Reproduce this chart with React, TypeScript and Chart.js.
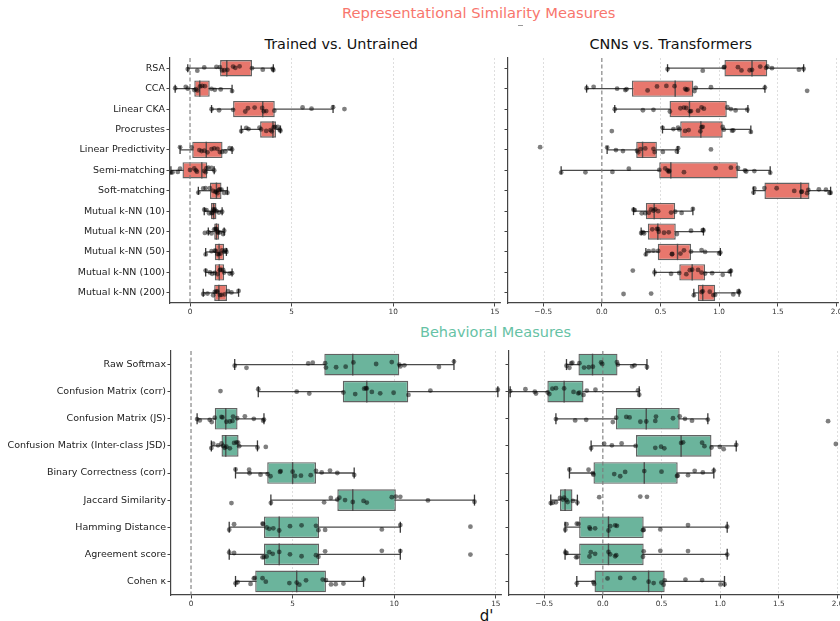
import React, { useEffect, useRef } from "react";
import { Chart, registerables } from "chart.js";

Chart.register(...registerables);

// ---------- categories & tick labels ----------
const REP_LABELS = [
  "RSA",
  "CCA",
  "Linear CKA",
  "Procrustes",
  "Linear Predictivity",
  "Semi-matching",
  "Soft-matching",
  "Mutual k-NN (10)",
  "Mutual k-NN (20)",
  "Mutual k-NN (50)",
  "Mutual k-NN (100)",
  "Mutual k-NN (200)",
];
const BEH_LABELS = [
  "Raw Softmax",
  "Confusion Matrix (corr)",
  "Confusion Matrix (JS)",
  "Confusion Matrix (Inter-class JSD)",
  "Binary Correctness (corr)",
  "Jaccard Similarity",
  "Hamming Distance",
  "Agreement score",
  "Cohen \u03ba",
];
const LEFT_X_TICKS = [0, 5, 10, 15];
const LEFT_X_TICK_LABELS = ["0", "5", "10", "15"];
const RIGHT_X_TICKS = [-0.5, 0, 0.5, 1, 1.5, 2];
const RIGHT_X_TICK_LABELS = ["\u22120.5", "0.0", "0.5", "1.0", "1.5", "2.0"];

// ---------- Trained vs. Untrained : representational ----------
const TU_REP_LO = [-0.11, -0.73, 1.06, 2.52, -0.49, -0.94, 0.41, 0.7, 0.9, 0.77, 0.77, 0.65];
const TU_REP_Q1 = [1.48, 0.21, 2.12, 3.45, 0.11, -0.37, 0.98, 1.03, 1.19, 1.22, 1.22, 1.19];
const TU_REP_MED = [1.81, 0.48, 3.58, 4.08, 0.8, 0.58, 1.3, 1.16, 1.3, 1.43, 1.44, 1.42];
const TU_REP_Q3 = [3.05, 0.97, 4.17, 4.23, 1.6, 0.85, 1.55, 1.3, 1.44, 1.68, 1.68, 1.82];
const TU_REP_HI = [4.1, 2.07, 7.04, 4.45, 2.07, 1.19, 1.84, 1.58, 1.68, 1.79, 2.07, 2.39];
const TU_REP_POINTS = [
  [-0.11, 0.36, 0.7, 1.3, 1.47, 1.58, 1.68, 1.84, 2.12, 2.23, 2.44, 3.05, 3.58, 4.07, 4.1],
  [-0.73, -0.21, -0.11, 0.21, 0.29, 0.37, 0.49, 0.6, 0.73, 1.06, 1.22, 1.51, 2.07],
  [1.06, 1.43, 2.12, 2.72, 2.85, 3.18, 3.55, 3.63, 3.75, 4.15, 5.54, 5.98, 7.04, 7.6],
  [2.52, 2.77, 2.88, 3.42, 3.5, 3.75, 3.96, 4.02, 4.12, 4.19, 4.32, 4.41, 4.45],
  [-0.49, 0.08, 0.46, 0.57, 0.7, 0.86, 1.06, 1.19, 1.35, 1.47, 1.58, 1.74, 1.95, 2.07],
  [-0.94, -0.86, -0.6, -0.49, 0.0, 0.21, 0.29, 0.34, 0.7, 0.77, 0.81, 0.9, 1.06, 1.19],
  [0.41, 0.65, 0.77, 0.98, 1.14, 1.25, 1.3, 1.35, 1.42, 1.47, 1.55, 1.68, 1.84],
  [0.7, 0.81, 0.94, 1.06, 1.11, 1.14, 1.19, 1.22, 1.3, 1.42, 1.58],
  [0.73, 0.9, 1.06, 1.19, 1.25, 1.3, 1.35, 1.38, 1.47, 1.63, 1.68],
  [0.77, 1.06, 1.22, 1.27, 1.35, 1.42, 1.51, 1.58, 1.68, 1.76, 1.79],
  [0.77, 0.98, 1.09, 1.22, 1.35, 1.47, 1.51, 1.63, 1.68, 1.95, 2.07],
  [0.65, 0.86, 1.14, 1.22, 1.3, 1.35, 1.47, 1.55, 1.71, 1.87, 2.04, 2.39],
];

// ---------- CNNs vs. Transformers : representational ----------
const CT_REP_LO = [0.56, -0.13, 0.11, 0.517, 0.045, -0.347, 1.293, 0.27, 0.335, 0.375, 0.449, 0.784];
const CT_REP_Q1 = [1.045, 0.256, 0.577, 0.668, 0.293, 0.489, 1.386, 0.375, 0.392, 0.477, 0.66, 0.818];
const CT_REP_MED = [1.28, 0.625, 0.747, 0.844, 0.347, 0.588, 1.696, 0.446, 0.477, 0.645, 0.77, 0.86];
const CT_REP_Q3 = [1.41, 0.78, 1.065, 1.03, 0.469, 1.159, 1.77, 0.625, 0.63, 0.76, 0.88, 0.966];
const CT_REP_HI = [1.72, 1.39, 1.245, 1.27, 0.648, 1.435, 1.95, 0.776, 0.866, 1.01, 1.1, 1.17];
const CT_REP_POINTS = [
  [0.56, 0.86, 1.04, 1.045, 1.16, 1.19, 1.26, 1.28, 1.35, 1.4, 1.41, 1.45, 1.68, 1.72],
  [-0.13, -0.07, 0.13, 0.2, 0.21, 0.39, 0.47, 0.55, 0.62, 0.71, 0.72, 0.73, 0.79, 0.8, 0.93, 1.39, 1.75],
  [0.11, 0.35, 0.44, 0.58, 0.67, 0.7, 0.72, 0.75, 0.76, 0.82, 0.85, 0.87, 1.07, 1.1, 1.14, 1.24],
  [0.085, 0.517, 0.61, 0.65, 0.66, 0.71, 0.74, 0.84, 0.85, 0.86, 1.03, 1.04, 1.11, 1.12, 1.27],
  [-0.526, 0.045, 0.12, 0.18, 0.3, 0.31, 0.33, 0.37, 0.44, 0.45, 0.52, 0.64, 0.65, 0.93],
  [-0.347, -0.14, 0.09, 0.23, 0.49, 0.54, 0.56, 0.57, 0.575, 0.7, 0.97, 1.1, 1.16, 1.22, 1.23, 1.3, 1.435],
  [1.293, 1.3, 1.386, 1.49, 1.64, 1.7, 1.705, 1.75, 1.76, 1.85, 1.91, 1.94, 1.95],
  [0.27, 0.28, 0.34, 0.37, 0.4, 0.42, 0.44, 0.455, 0.48, 0.59, 0.625, 0.68, 0.776],
  [0.335, 0.35, 0.36, 0.43, 0.47, 0.48, 0.485, 0.53, 0.57, 0.64, 0.76, 0.86, 0.866],
  [0.375, 0.4, 0.44, 0.48, 0.597, 0.6, 0.67, 0.7, 0.76, 0.85, 0.88, 1.0, 1.01],
  [0.264, 0.449, 0.59, 0.66, 0.72, 0.75, 0.77, 0.82, 0.85, 0.88, 0.94, 1.03, 1.09, 1.1],
  [0.185, 0.42, 0.784, 0.85, 0.86, 0.92, 0.95, 0.966, 1.12, 1.165, 1.17],
];

// ---------- Trained vs. Untrained : behavioral ----------
const TU_BEH_LO = [2.15, 3.31, 0.3, 1.0, 2.19, 3.93, 1.88, 1.88, 2.19];
const TU_BEH_Q1 = [6.56, 7.47, 1.17, 1.5, 3.75, 7.2, 3.59, 3.59, 3.16];
const TU_BEH_MED = [7.96, 8.65, 1.71, 1.71, 5.0, 7.96, 4.34, 4.34, 5.2];
const TU_BEH_Q3 = [10.25, 10.69, 2.29, 2.34, 6.15, 10.08, 6.3, 6.3, 6.64];
const TU_BEH_HI = [12.94, 15.1, 3.59, 3.27, 8.03, 13.95, 10.3, 10.3, 8.49];
const TU_BEH_POINTS = [
  [2.15, 2.73, 5.77, 5.99, 6.6, 6.64, 7.14, 7.61, 7.99, 9.11, 9.88, 10.25, 10.3, 10.5, 12.2, 12.94],
  [1.45, 3.31, 5.2, 5.82, 7.5, 8.08, 8.52, 8.6, 8.65, 8.9, 9.31, 9.97, 10.7, 11.78, 15.1],
  [0.3, 0.43, 0.92, 1.02, 1.17, 1.5, 1.55, 1.74, 1.91, 2.04, 2.07, 2.27, 2.65, 3.09, 3.55, 3.59],
  [1.0, 1.09, 1.33, 1.5, 1.58, 1.66, 1.74, 1.91, 2.12, 2.24, 2.32, 2.37, 3.27, 3.68],
  [2.19, 2.86, 2.88, 3.42, 3.77, 3.91, 4.38, 4.41, 5.0, 5.12, 5.41, 5.89, 6.15, 6.43, 6.84, 7.2, 8.03],
  [1.99, 3.93, 6.55, 6.88, 7.2, 7.3, 7.58, 7.96, 8.49, 8.65, 9.88, 10.08, 10.3, 11.66, 13.95],
  [1.88, 2.12, 3.52, 3.55, 3.72, 3.85, 4.05, 4.34, 4.87, 5.44, 6.15, 6.27, 6.6, 9.39, 10.3, 13.75],
  [1.88, 2.12, 3.52, 3.59, 3.72, 3.85, 4.02, 4.34, 4.87, 5.44, 6.15, 6.27, 6.6, 9.39, 10.3, 13.75],
  [2.19, 2.29, 2.93, 3.09, 3.14, 3.52, 3.68, 4.84, 5.2, 5.33, 5.66, 6.48, 6.64, 6.89, 7.12, 7.5, 8.49],
];

// ---------- CNNs vs. Transformers : behavioral ----------
const CT_BEH_LO = [-0.31, -0.79, -0.4, -0.1, -0.285, -0.444, -0.322, -0.322, -0.222];
const CT_BEH_Q1 = [-0.208, -0.473, 0.111, 0.282, -0.08, -0.365, -0.202, -0.202, -0.071];
const CT_BEH_MED = [-0.088, -0.33, 0.37, 0.667, 0.353, -0.322, 0.048, 0.048, 0.39];
const CT_BEH_Q3 = [0.125, -0.165, 0.655, 0.926, 0.638, -0.259, 0.348, 0.348, 0.527];
const CT_BEH_HI = [0.376, 0.31, 0.895, 1.137, 0.946, -0.217, 1.06, 1.06, 1.037];
const CT_BEH_POINTS = [
  [-0.31, -0.285, -0.27, -0.26, -0.2, -0.16, -0.12, -0.085, -0.015, -0.005, 0.12, 0.128, 0.25, 0.27, 0.376],
  [-0.79, -0.66, -0.58, -0.57, -0.47, -0.456, -0.43, -0.4, -0.33, -0.25, -0.21, -0.2, -0.165, -0.137, -0.063, 0.3, 0.31],
  [-0.4, -0.236, -0.142, 0.085, 0.114, 0.2, 0.228, 0.32, 0.37, 0.447, 0.453, 0.598, 0.655, 0.7, 0.76, 0.895, 1.92],
  [-0.1, 0.011, 0.077, 0.16, 0.28, 0.447, 0.496, 0.524, 0.667, 0.684, 0.846, 0.866, 0.926, 0.997, 1.03, 1.137, 1.986],
  [-0.285, -0.122, -0.085, -0.08, 0.097, 0.148, 0.19, 0.353, 0.5, 0.632, 0.638, 0.726, 0.783, 0.852, 0.946],
  [-0.444, -0.427, -0.4, -0.365, -0.342, -0.33, -0.31, -0.3, -0.256, -0.217, -0.031, 0.319, 0.376],
  [-0.32, -0.31, -0.222, -0.208, -0.114, -0.108, -0.066, 0.048, 0.063, 0.105, 0.12, 0.342, 0.348, 0.49, 0.726, 1.06],
  [-0.32, -0.31, -0.228, -0.217, -0.114, -0.103, -0.066, 0.048, 0.063, 0.105, 0.114, 0.342, 0.348, 0.49, 0.726, 1.06],
  [-0.222, -0.08, -0.074, 0.04, 0.148, 0.268, 0.39, 0.433, 0.499, 0.518, 0.527, 0.704, 0.846, 1.003, 1.037],
];

// strip-plot vertical jitter (category units), purely visual
const JITTER = [0.04, -0.07, 0.1, -0.02, 0.07, -0.11, 0.01, 0.12, -0.05, 0.08, -0.09, 0.03, -0.13, 0.06, -0.04, 0.11, -0.08, 0.0, 0.09, -0.12];

const FONT = "'DejaVu Sans', 'Liberation Sans', sans-serif";
const REP_FILL = "rgb(232,119,109)";
const BEH_FILL = "rgb(107,180,156)";

type PanelProps = {
  left: number;
  top: number;
  plotWidth: number;
  plotHeight: number;
  yAxisWidth: number;
  labels: string[];
  showLabels: boolean;
  xMin: number;
  xMax: number;
  xTicks: number[];
  xTickLabels: string[];
  lo: number[];
  q1: number[];
  med: number[];
  q3: number[];
  hi: number[];
  points: number[][];
  fill: string;
  capRadius: number;
};

const PAD_TOP = 4;
const PAD_RIGHT = 12;
const X_AXIS_H = 20;

function Panel(p: PanelProps) {
  const ref = useRef<HTMLCanvasElement | null>(null);
  const cw = p.yAxisWidth + p.plotWidth + PAD_RIGHT;
  const ch = PAD_TOP + p.plotHeight + X_AXIS_H;

  useEffect(() => {
    const canvas = ref.current;
    if (!canvas) return;
    const n = p.labels.length;
    const whiskers = p.labels.map((_, i) => ({ y: i, x: [p.lo[i], p.hi[i]] }));
    const boxes = p.labels.map((_, i) => ({ y: i, x: [p.q1[i], p.q3[i]] }));
    const medians = p.labels.map((_, i) => ({ x: p.med[i], y: i }));
    const caps: any[] = [];
    p.labels.forEach((_, i) => {
      caps.push({ x: p.lo[i], y: i });
      caps.push({ x: p.hi[i], y: i });
    });
    const pts: any[] = [];
    p.points.forEach((row, i) => {
      row.forEach((v, k) => {
        pts.push({ x: v, y: i + JITTER[(k * 7 + i * 3) % JITTER.length] });
      });
    });
    const zeroLine = [
      { x: 0, y: -0.5 },
      { x: 0, y: n - 0.5 },
    ];
    const halfBox = (ctx: any) => {
      const s = ctx.chart.scales.y;
      return Math.abs(s.getPixelForValue(0.4) - s.getPixelForValue(0));
    };

    const chart = new Chart(canvas, {
      type: "scatter",
      data: {
        datasets: [
          {
            type: "bar",
            indexAxis: "y",
            data: whiskers,
            backgroundColor: "#4a4a4a",
            borderWidth: 0,
            grouped: false,
            maxBarThickness: 1.3,
            categoryPercentage: 0.8,
            barPercentage: 1,
            order: 6,
          } as any,
          {
            type: "bar",
            indexAxis: "y",
            data: boxes,
            backgroundColor: p.fill,
            borderColor: "rgba(70,70,70,0.85)",
            borderWidth: 1.4,
            borderSkipped: false,
            grouped: false,
            categoryPercentage: 0.8,
            barPercentage: 1,
            order: 5,
          } as any,
          {
            type: "scatter",
            data: medians,
            pointStyle: "line",
            pointRotation: 90,
            pointRadius: halfBox,
            pointBorderColor: "rgba(70,70,70,0.9)",
            pointBorderWidth: 1.4,
            order: 4,
          } as any,
          {
            type: "scatter",
            data: caps,
            pointStyle: "line",
            pointRotation: 90,
            pointRadius: p.capRadius,
            pointBorderColor: "#3a3a3a",
            pointBorderWidth: 1.3,
            order: 4,
          } as any,
          {
            type: "scatter",
            data: zeroLine,
            showLine: true,
            borderColor: "#7a7a7a",
            borderWidth: 1.1,
            borderDash: [4, 2.5],
            pointRadius: 0,
            order: 3,
          } as any,
          {
            type: "scatter",
            data: pts,
            pointRadius: 2.4,
            pointBackgroundColor: "rgba(0,0,0,0.5)",
            pointBorderWidth: 0,
            order: 1,
          } as any,
        ],
      },
      options: {
        responsive: false,
        animation: false,
        events: [],
        layout: {
          padding: { top: PAD_TOP, right: PAD_RIGHT, left: 0, bottom: 0 },
          autoPadding: false,
        } as any,
        plugins: {
          legend: { display: false },
          tooltip: { enabled: false },
          title: { display: false },
        },
        scales: {
          x: {
            type: "linear",
            min: p.xMin,
            max: p.xMax,
            bounds: "data",
            offset: false,
            afterBuildTicks: (s: any) => {
              s.ticks = p.xTicks.map((v) => ({ value: v }));
            },
            afterFit: (s: any) => {
              s.height = X_AXIS_H;
              s.paddingLeft = 0;
              s.paddingRight = 0;
            },
            ticks: {
              autoSkip: false,
              maxRotation: 0,
              padding: 1,
              color: "#333",
              font: { family: FONT, size: 7.3 },
              callback: (_v: any, idx: number) => p.xTickLabels[idx],
            },
            grid: {
              offset: false,
              color: (ctx: any) =>
                ctx.tick && ctx.tick.value === 0 ? "rgba(0,0,0,0)" : "#d6d6d6",
              lineWidth: 0.8,
              tickColor: "#444",
              tickLength: 3.5,
              tickWidth: 1,
            },
            border: { display: true, color: "#444", width: 1.2, dash: [2, 2] },
          } as any,
          y: {
            type: "linear",
            min: -0.5,
            max: n - 0.5,
            reverse: true,
            bounds: "data",
            offset: false,
            afterBuildTicks: (s: any) => {
              s.ticks = p.labels.map((_, i) => ({ value: i }));
            },
            afterFit: (s: any) => {
              s.width = p.yAxisWidth;
              s.paddingTop = 0;
              s.paddingBottom = 0;
            },
            ticks: {
              display: p.showLabels,
              autoSkip: false,
              padding: 1.5,
              color: "#222",
              font: { family: FONT, size: 9.5 },
              callback: (v: any) => p.labels[Math.round(v)] ?? "",
            },
            grid: {
              offset: false,
              drawOnChartArea: false,
              drawTicks: true,
              tickLength: 3.5,
              tickColor: "#444",
              tickWidth: 1,
            },
            border: { display: true, color: "#444", width: 1.2 },
          } as any,
        },
      },
    });
    return () => chart.destroy();
  }, []);

  return (
    <canvas
      ref={ref}
      width={cw}
      height={ch}
      style={{
        position: "absolute",
        left: p.left - p.yAxisWidth,
        top: p.top - PAD_TOP,
        width: cw,
        height: ch,
      }}
    />
  );
}

function Label(props: { text: string; cx: number; cy: number; size: number; color: string }) {
  return (
    <div
      style={{
        position: "absolute",
        left: props.cx,
        top: props.cy,
        transform: "translate(-50%, -50%)",
        fontFamily: FONT,
        fontSize: props.size,
        lineHeight: 1,
        color: props.color,
        whiteSpace: "nowrap",
      }}
    >
      {props.text}
    </div>
  );
}

export default function App() {
  return (
    <div
      style={{
        position: "fixed",
        left: 0,
        top: 0,
        width: 840,
        height: 621,
        overflow: "hidden",
        background: "#ffffff",
      }}
    >
      <Label text="Representational Similarity Measures" cx={478.7} cy={12.5} size={14.7} color="#F8766D" />
      <div style={{ position: "absolute", left: 518, top: 25, width: 5, height: 1, background: "#999" }} />
      <Label text="Trained vs. Untrained" cx={341.2} cy={43.5} size={14.4} color="#111" />
      <Label text="CNNs vs. Transformers" cx={670.8} cy={43.5} size={14.4} color="#111" />
      <Label text="Behavioral Measures" cx={495.5} cy={332} size={14.5} color="#66C2A5" />
      <Label text="d'" cx={486.5} cy={616.2} size={15} color="#111" />

      <Panel
        left={170}
        top={58}
        plotWidth={330}
        plotHeight={245}
        yAxisWidth={170}
        labels={REP_LABELS}
        showLabels={true}
        xMin={-0.985}
        xMax={15.255}
        xTicks={LEFT_X_TICKS}
        xTickLabels={LEFT_X_TICK_LABELS}
        lo={TU_REP_LO}
        q1={TU_REP_Q1}
        med={TU_REP_MED}
        q3={TU_REP_Q3}
        hi={TU_REP_HI}
        points={TU_REP_POINTS}
        fill={REP_FILL}
        capRadius={4}
      />
      <Panel
        left={508}
        top={58}
        plotWidth={330}
        plotHeight={245}
        yAxisWidth={8}
        labels={REP_LABELS}
        showLabels={false}
        xMin={-0.8}
        xMax={2.013}
        xTicks={RIGHT_X_TICKS}
        xTickLabels={RIGHT_X_TICK_LABELS}
        lo={CT_REP_LO}
        q1={CT_REP_Q1}
        med={CT_REP_MED}
        q3={CT_REP_Q3}
        hi={CT_REP_HI}
        points={CT_REP_POINTS}
        fill={REP_FILL}
        capRadius={4}
      />
      <Panel
        left={171}
        top={351}
        plotWidth={330}
        plotHeight={244}
        yAxisWidth={171}
        labels={BEH_LABELS}
        showLabels={true}
        xMin={-0.985}
        xMax={15.255}
        xTicks={LEFT_X_TICKS}
        xTickLabels={LEFT_X_TICK_LABELS}
        lo={TU_BEH_LO}
        q1={TU_BEH_Q1}
        med={TU_BEH_MED}
        q3={TU_BEH_Q3}
        hi={TU_BEH_HI}
        points={TU_BEH_POINTS}
        fill={BEH_FILL}
        capRadius={5.5}
      />
      <Panel
        left={509}
        top={351}
        plotWidth={330}
        plotHeight={244}
        yAxisWidth={8}
        labels={BEH_LABELS}
        showLabels={false}
        xMin={-0.8}
        xMax={2.013}
        xTicks={RIGHT_X_TICKS}
        xTickLabels={RIGHT_X_TICK_LABELS}
        lo={CT_BEH_LO}
        q1={CT_BEH_Q1}
        med={CT_BEH_MED}
        q3={CT_BEH_Q3}
        hi={CT_BEH_HI}
        points={CT_BEH_POINTS}
        fill={BEH_FILL}
        capRadius={5.5}
      />
    </div>
  );
}
